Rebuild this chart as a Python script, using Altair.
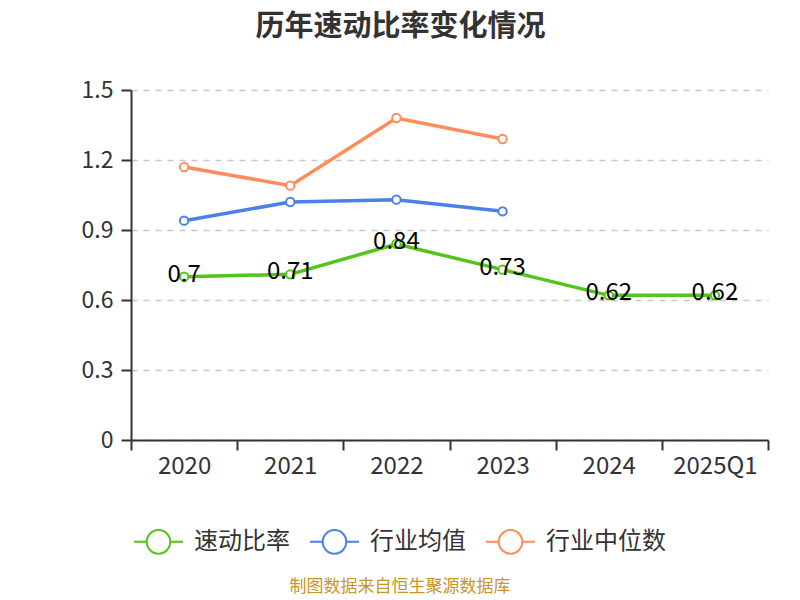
import altair as alt
import pandas as pd

years = ["2020", "2021", "2022", "2023", "2024", "2025Q1"]
quick_ratio = [0.70, 0.71, 0.84, 0.73, 0.62, 0.62]
ind_mean = [0.94, 1.02, 1.03, 0.98]
ind_median = [1.17, 1.09, 1.38, 1.29]
series_names = ["速动比率", "行业均值", "行业中位数"]
colors = ["#52c41a", "#4a80e8", "#ff8c5a"]
source_text = ["制图数据来自恒生聚源数据库"]

rows = []
for y, v in zip(years, quick_ratio):
    rows.append({"year": y, "value": v, "series": series_names[0], "label": f"{v:g}"})
for y, v in zip(years, ind_mean):
    rows.append({"year": y, "value": v, "series": series_names[1], "label": ""})
for y, v in zip(years, ind_median):
    rows.append({"year": y, "value": v, "series": series_names[2], "label": ""})
df = pd.DataFrame(rows)

FONT = "Noto Sans CJK SC"

legend_symbol = "M-1,0 L-0.48,0 M0.48,0 L1,0 M-0.48,0 A0.48,0.48 0 1,1 0.48,0 A0.48,0.48 0 1,1 -0.48,0 Z"

x_scale = alt.Scale(type="band", domain=years, paddingInner=0, paddingOuter=0)
x_enc = alt.X("year:N", sort=years, scale=x_scale,
              axis=alt.Axis(title=None, labelAngle=0, tickBand="extent", labelFontSize=24,
                            labelColor="#333333", labelPadding=4, domainColor="#333333",
                            domainWidth=2, tickColor="#333333", tickWidth=2, tickSize=10,
                            grid=False, labelFont=FONT))
y_enc = alt.Y("value:Q", scale=alt.Scale(domain=[0, 1.5], nice=False),
              axis=alt.Axis(title=None, values=[0, 0.3, 0.6, 0.9, 1.2, 1.5],
                            format="~g", labelFontSize=23, labelColor="#333333",
                            labelPadding=8, domainColor="#333333", domainWidth=2,
                            tickColor="#333333", tickWidth=2, tickSize=10,
                            grid=True, gridDash=[6, 6], gridColor="#c8c8c8", gridWidth=1.5,
                            labelFont=FONT))
color_scale = alt.Scale(domain=series_names, range=colors)
color_enc = alt.Color("series:N", scale=color_scale,
                      legend=alt.Legend(title=None, orient="none", legendX=2, legendY=426,
                                        direction="horizontal", symbolType=legend_symbol,
                                        symbolSize=2400, symbolStrokeWidth=2,
                                        symbolFillColor="white", labelFontSize=24,
                                        labelColor="#333333", labelFont=FONT,
                                        columnPadding=16, labelOffset=10, padding=0))

lines = alt.Chart(df).mark_line(strokeWidth=3.5).encode(x=x_enc, y=y_enc, color=color_enc)
points = alt.Chart(df).mark_point(filled=False, fill="white", fillOpacity=1, size=70,
                                  strokeWidth=2, opacity=1).encode(
    x=alt.X("year:N", sort=years, scale=x_scale),
    y="value:Q",
    stroke=alt.Stroke("series:N", scale=color_scale, legend=None),
)
labels = alt.Chart(df[df["label"] != ""]).mark_text(
    fontSize=24, color="#000000", font=FONT, baseline="middle", dy=-2
).encode(x=alt.X("year:N", sort=years, scale=x_scale), y="value:Q", text="label:N")

src = alt.Chart(pd.DataFrame({"t": source_text})).mark_text(
    fontSize=17, color="#c8952a", font=FONT, align="center", baseline="middle"
).encode(x=alt.value(269), y=alt.value(497), text="t:N")

chart = alt.layer(lines, points, labels, src).properties(
    width=637, height=350,
    autosize=alt.AutoSizeParams(type="none"),
    padding={"left": 123, "top": 82, "right": 24, "bottom": 158},
    title=alt.TitleParams("历年速动比率变化情况", fontSize=29, fontWeight="bold",
                          color="#333333", font=FONT, anchor="middle", dx=-49, offset=37),
).configure_view(stroke=None)

chart.save("out.html", embed_options={"renderer": "svg", "actions": False})
